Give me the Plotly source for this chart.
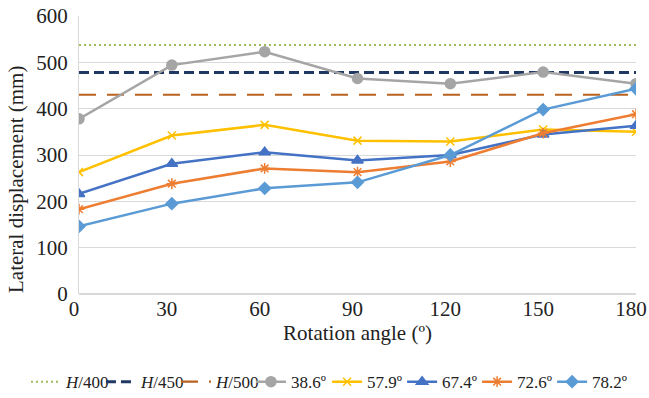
import plotly.graph_objects as go

angles = [0, 30, 60, 90, 120, 150, 180]
tick_labels = ["0", "30", "60", "90", "120", "150", "180"]

limit_names = ["<i>H</i>/400", "<i>H</i>/450", "<i>H</i>/500"]
limit_values = [537.5, 477.8, 430.0]

s386 = [378, 494, 523, 465, 454, 479, 454]
s579 = [263, 342, 365, 331, 329, 355, 350]
s674 = [216, 281, 306, 288, 300, 344, 363]
s726 = [183, 238, 271, 263, 286, 347, 388]
s782 = [146, 195, 228, 241, 300, 398, 443]

series_names = ["38.6º", "57.9º", "67.4º", "72.6º", "78.2º"]
series_values = [s386, s579, s674, s726, s782]

y_title = "Lateral displacement (mm)"
x_title = "Rotation angle (º)"

limit_styles = [
    dict(color="#9bbb59", dash="2px,3px", width=2),
    dict(color="#1f3864", dash="10px,5px", width=3),
    dict(color="#b8621f", dash="17px,11px", width=2.2),
]
series_styles = [
    ("#a5a5a5", "circle", 10),
    ("#ffc000", "x-thin-open", 8),
    ("#4472c4", "triangle-up", 10),
    ("#ed7d31", "asterisk-open", 9),
    ("#5b9bd5", "diamond", 9),
]
# first legend block: limits + first series; second block: remaining series
series_legends = ["legend", "legend2", "legend2", "legend2", "legend2"]

fig = go.Figure()
for name, val, st in zip(limit_names, limit_values, limit_styles):
    fig.add_trace(go.Scatter(x=angles, y=[val] * len(angles), mode="lines",
                             name=name, line=st, legend="legend"))
for name, vals, (c, sym, sz), lg in zip(series_names, series_values, series_styles, series_legends):
    fig.add_trace(go.Scatter(x=angles, y=vals, mode="lines+markers", name=name,
                             legend=lg,
                             line=dict(color=c, width=2.5),
                             marker=dict(symbol=sym, size=sz, color=c,
                                         line=dict(color=c, width=1.5))))

ff = "Liberation Serif"
leg_common = dict(orientation="h", xref="container", xanchor="left",
                  y=-0.317, yanchor="middle",
                  font=dict(size=17, family=ff, color="#222222"), itemwidth=30,
                  entrywidth=30, entrywidthmode="pixels",
                  tracegroupgap=0, traceorder="normal",
                  bgcolor="rgba(0,0,0,0)")
fig.update_layout(
    width=649, height=398,
    margin=dict(l=79, r=13, t=16, b=104, autoexpand=False),
    plot_bgcolor="white", paper_bgcolor="white",
    font=dict(family=ff, color="#222222", size=21),
    showlegend=True,
    legend=dict(x=0.040, **leg_common),
    legend2=dict(x=0.504, **leg_common),
    xaxis=dict(range=[0, 180], tickvals=angles, ticktext=tick_labels,
               showgrid=False, zeroline=False, showline=False, automargin=False,
               tickfont=dict(size=21, family=ff), ticks="",
               ticklabeloverflow="allow", ticklabelstandoff=0, ticklabelshift=-5,
               title=dict(text=x_title, font=dict(size=21, family=ff), standoff=0)),
    yaxis=dict(range=[0, 600], dtick=100, showgrid=True, gridcolor="#d9d9d9",
               gridwidth=1, zeroline=True, zerolinecolor="#d9d9d9", automargin=False,
               showline=True, linecolor="#d9d9d9", ticks="",
               tickfont=dict(size=21, family=ff), ticklabelstandoff=6,
               ticklabeloverflow="allow"),
    annotations=[dict(text=y_title, textangle=-90, xref="paper", yref="paper",
                      x=0, y=0.41, xanchor="center", yanchor="middle",
                      xshift=-63, showarrow=False,
                      font=dict(size=21, family=ff, color="#222222"))],
)
fig.write_html("out.html")
